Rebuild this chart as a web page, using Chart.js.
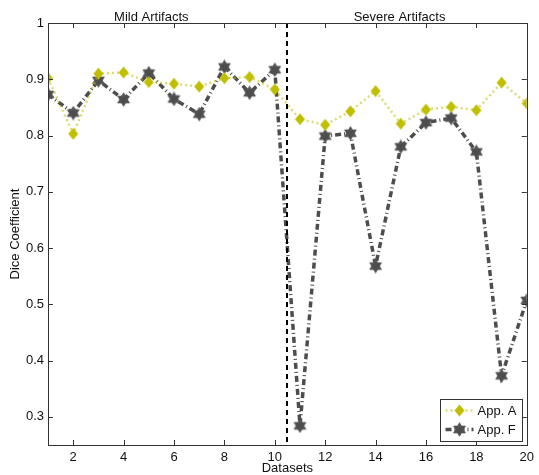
<!DOCTYPE html>
<html>
<head>
<meta charset="utf-8">
<script src="https://cdn.jsdelivr.net/npm/chart.js@4/dist/chart.umd.min.js"></script>
<style>
  html, body { margin: 0; padding: 0; background: #fff; }
  #wrap { width: 539px; height: 475px; }
</style>
</head>
<body>
<div id="wrap"><canvas id="dice"></canvas></div>
<script>
// Data
const datasetsX = [1, 2, 3, 4, 5, 6, 7, 8, 9, 10, 11, 12, 13, 14, 15, 16, 17, 18, 19, 20];
const appA = [0.902, 0.803, 0.910, 0.912, 0.895, 0.892, 0.887, 0.902, 0.904, 0.882,
              0.829, 0.819, 0.843, 0.879, 0.821, 0.846, 0.851, 0.845, 0.894, 0.857];
const appF = [0.873, 0.840, 0.898, 0.864, 0.911, 0.865, 0.838, 0.922, 0.876, 0.917,
              0.284, 0.799, 0.804, 0.568, 0.780, 0.823, 0.831, 0.771, 0.373, 0.507];
const xTicks = [2, 4, 6, 8, 10, 12, 14, 16, 18, 20];
const yTicks = [0.3, 0.4, 0.5, 0.6, 0.7, 0.8, 0.9, 1];
const splitAt = 10.5;
const regionLabels = [
  { text: 'Mild Artifacts', x: 5.1 },
  { text: 'Severe Artifacts', x: 14.95 }
];

const FONT = '"Liberation Sans", Arial, Helvetica, sans-serif';
const YELLOW = '#bfbf00';
const GREY = '#4d4d4d';
const AXIS = '#333';

// marker images
function makeDiamond() {
  const c = document.createElement('canvas');
  c.width = 11; c.height = 13;
  const g = c.getContext('2d');
  g.fillStyle = YELLOW;
  g.beginPath();
  g.moveTo(5.5, 0.5); g.lineTo(10.5, 6.5); g.lineTo(5.5, 12.5); g.lineTo(0.5, 6.5);
  g.closePath();
  g.fill();
  return c;
}

function makeHexagram() {
  const c = document.createElement('canvas');
  c.width = 15; c.height = 15;
  const g = c.getContext('2d');
  const r = 6.8;
  g.fillStyle = GREY;
  g.strokeStyle = '#5a5a5a';
  g.lineWidth = 0.8;
  [-Math.PI / 2, Math.PI / 2].forEach(start => {
    g.beginPath();
    for (let i = 0; i < 3; i++) {
      const a = start + i * 2 * Math.PI / 3;
      const px = 7.5 + r * Math.cos(a), py = 7.5 + r * Math.sin(a);
      if (i === 0) g.moveTo(px, py); else g.lineTo(px, py);
    }
    g.closePath();
    g.fill();
    g.stroke();
  });
  return c;
}

const diamondImg = makeDiamond();
const hexImg = makeHexagram();

// frame, inward ticks, divider, region labels, legend
const decorations = {
  id: 'decorations',
  afterDatasetsDraw(chart) {
    const { ctx, chartArea: a, scales: { x, y } } = chart;
    ctx.save();
    // divider
    ctx.strokeStyle = '#000';
    ctx.lineWidth = 2;
    ctx.setLineDash([5, 4]);
    const dx = Math.round(x.getPixelForValue(splitAt));
    ctx.beginPath();
    ctx.moveTo(dx, a.top);
    ctx.lineTo(dx, a.bottom);
    ctx.stroke();
    ctx.setLineDash([]);

    // frame
    ctx.strokeStyle = AXIS;
    ctx.lineWidth = 1;
    ctx.strokeRect(Math.round(a.left) + 0.5, Math.round(a.top) + 0.5,
      Math.round(a.right - a.left), Math.round(a.bottom - a.top));

    // inward ticks
    const tl = 5;
    ctx.beginPath();
    xTicks.forEach(v => {
      const px = Math.round(x.getPixelForValue(v)) + 0.5;
      ctx.moveTo(px, a.bottom); ctx.lineTo(px, a.bottom - tl);
      ctx.moveTo(px, a.top); ctx.lineTo(px, a.top + tl);
    });
    yTicks.forEach(v => {
      const py = Math.round(y.getPixelForValue(v)) + 0.5;
      ctx.moveTo(a.left, py); ctx.lineTo(a.left + tl, py);
      ctx.moveTo(a.right, py); ctx.lineTo(a.right - tl, py);
    });
    ctx.stroke();

    // region labels
    ctx.fillStyle = '#111';
    ctx.font = '13px ' + FONT;
    ctx.textAlign = 'center';
    ctx.textBaseline = 'alphabetic';
    regionLabels.forEach(l => ctx.fillText(l.text, x.getPixelForValue(l.x), a.top - 2));

    // legend
    const bw = 82, bh = 42;
    const bx = Math.round(a.right - 5 - bw) + 0.5, by = Math.round(a.bottom - 4 - bh) + 0.5;
    ctx.fillStyle = '#fff';
    ctx.fillRect(bx, by, bw, bh);
    ctx.strokeStyle = AXIS;
    ctx.strokeRect(bx, by, bw, bh);
    chart.data.datasets.forEach((ds, i) => {
      const ly = by + 11 + i * 19;
      ctx.strokeStyle = ds.borderColor;
      ctx.lineWidth = ds.borderWidth;
      ctx.setLineDash(ds.borderDash);
      ctx.beginPath();
      ctx.moveTo(bx + 5, ly); ctx.lineTo(bx + 33, ly);
      ctx.stroke();
      ctx.setLineDash([]);
      const img = ds.pointStyle;
      ctx.drawImage(img, bx + 19 - img.width / 2, ly - img.height / 2);
      ctx.fillStyle = '#111';
      ctx.textAlign = 'left';
      ctx.textBaseline = 'middle';
      ctx.fillText(ds.label, bx + 37, ly + 1);
    });
    ctx.restore();
  }
};

new Chart(document.getElementById('dice'), {
  type: 'line',
  data: {
    labels: datasetsX,
    datasets: [{
      label: 'App. A',
      data: datasetsX.map((v, i) => ({ x: v, y: appA[i] })),
      borderColor: 'rgba(191,191,0,0.55)',
      borderWidth: 2.5,
      borderDash: [2, 3],
      pointStyle: diamondImg,
      pointRadius: 6,
      tension: 0
    }, {
      label: 'App. F',
      data: datasetsX.map((v, i) => ({ x: v, y: appF[i] })),
      borderColor: GREY,
      borderWidth: 3.5,
      borderDash: [6, 3, 1, 3],
      pointStyle: hexImg,
      pointRadius: 7,
      tension: 0
    }]
  },
  options: {
    responsive: true,
    maintainAspectRatio: false,
    animation: false,
    layout: { padding: { top: 23, right: 7, left: 0, bottom: 0 } },
    plugins: {
      legend: { display: false },
      tooltip: { enabled: false }
    },
    scales: {
      x: {
        type: 'linear',
        min: 1,
        max: 20,
        grid: { display: false, drawTicks: false },
        border: { display: false },
        afterBuildTicks: s => { s.ticks = xTicks.map(v => ({ value: v })); },
        afterFit: s => { s.height = 30; },
        ticks: { color: '#111', padding: 5, font: { family: FONT, size: 13 }, maxRotation: 0 },
        title: {
          display: true,
          text: 'Datasets',
          color: '#111',
          font: { family: FONT, size: 13, lineHeight: 1 },
          padding: { top: 0, bottom: 0 }
        }
      },
      y: {
        min: 0.25,
        max: 1,
        grid: { display: false, drawTicks: false },
        border: { display: false },
        afterBuildTicks: s => { s.ticks = yTicks.map(v => ({ value: v })); },
        afterFit: s => { s.width = 48; },
        ticks: {
          color: '#111',
          padding: 4,
          font: { family: FONT, size: 13 },
          callback: v => String(+v.toFixed(2))
        },
        title: {
          display: true,
          text: 'Dice Coefficient',
          color: '#111',
          font: { family: FONT, size: 13, lineHeight: 1 },
          padding: { top: 9, bottom: 0 }
        }
      }
    }
  },
  plugins: [decorations]
});
</script>
</body>
</html>
